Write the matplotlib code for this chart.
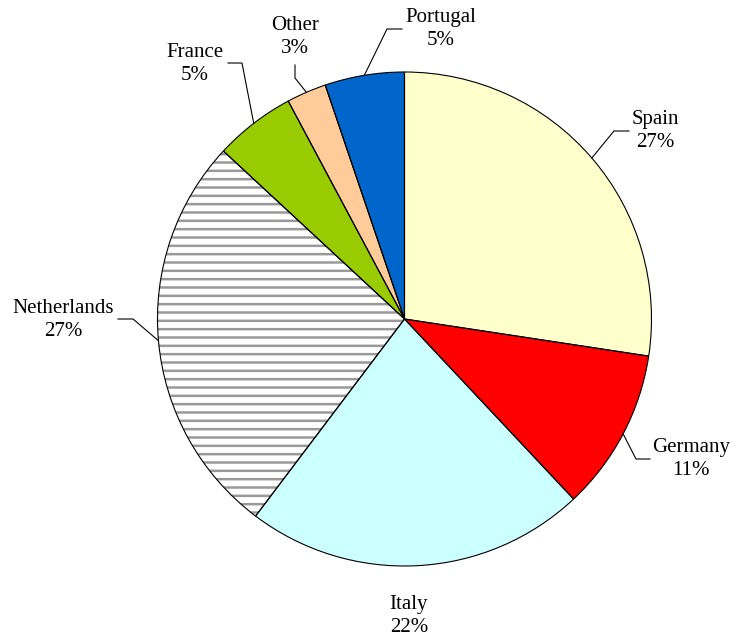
import numpy as np
import matplotlib.pyplot as plt

plt.rcParams['font.family'] = ['Liberation Serif', 'DejaVu Serif']
plt.rcParams['hatch.linewidth'] = 1.8

# --------------------------------------------------------------
# Data (clockwise from 12 o'clock)
# --------------------------------------------------------------
countries = ['Spain', 'Germany', 'Italy', 'Netherlands', 'France', 'Other', 'Portugal']
shares = [27.4, 10.6, 22.3, 26.6, 5.3, 2.6, 5.2]
colors = ['#FFFFCC', '#FF0000', '#CCFFFF', '#FFFFFF', '#99CC00', '#FFCC99', '#0066CC']
hatches = ['', '', '', '--', '', '', '']

# label layout in pixels: text centre, leader elbow, leader end (None = no leader)
label_pos = {
    'Spain':       ((655, 131), (614, 131), (629, 131)),
    'Germany':     ((691, 459), (636, 459), (650, 459)),
    'Italy':       ((409, 616), None, None),
    'Netherlands': ((63, 320), (133, 319), (118, 319)),
    'France':      ((195, 64), (242, 63), (228, 63)),
    'Other':       ((295, 37), (295, 78), (295, 65)),
    'Portugal':    ((441, 29), (387, 29), (402, 29)),
}

W, H = 733, 637
CX, CY, R = 404.5, 319.0, 247.0


def px_to_data(p):
    return ((p[0] - CX) / R, (CY - p[1]) / R)


fig = plt.figure(figsize=(W / 100, H / 100), dpi=100)
ax = fig.add_axes([(CX - R) / W, (H - CY - R) / H, 2 * R / W, 2 * R / H])

# fills + hatching (hatch drawn in gray)
wedges, _ = ax.pie(shares, colors=colors, startangle=90, counterclock=False,
                   radius=1, wedgeprops=dict(linewidth=0, edgecolor='#999999'))
for w, h in zip(wedges, hatches):
    w.set_hatch(h)
# black outlines on top
ax.pie(shares, colors=['none'] * len(shares), startangle=90, counterclock=False,
       radius=1, wedgeprops=dict(linewidth=0.8, edgecolor='black', fill=False))

ax.set_xlim(-1, 1)
ax.set_ylim(-1, 1)
ax.set_aspect('equal')
ax.axis('off')

for w, name, val in zip(wedges, countries, shares):
    txt_px, elbow_px, end_px = label_pos[name]
    tx, ty = px_to_data(txt_px)
    ax.text(tx, ty, f"{name}\n{val:.0f}%", ha='center', va='center',
            fontsize=15, linespacing=1.32, clip_on=False)
    if elbow_px is not None:
        mid = np.deg2rad((w.theta1 + w.theta2) / 2)
        sx, sy = np.cos(mid), np.sin(mid)
        ex, ey = px_to_data(elbow_px)
        qx, qy = px_to_data(end_px)
        ax.plot([sx, ex, qx], [sy, ey, qy], color='black', lw=0.8,
                clip_on=False, solid_joinstyle='miter')

fig.savefig('out.png', dpi=100)
